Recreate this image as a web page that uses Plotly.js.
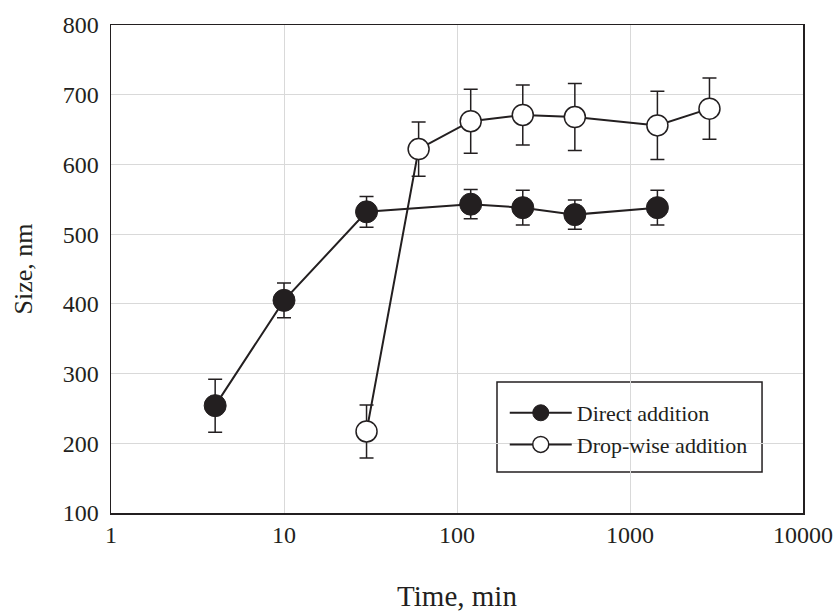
<!DOCTYPE html>
<html>
<head>
<meta charset="utf-8">
<script src="https://cdn.plot.ly/plotly-3.0.1.min.js"></script>
<style>html,body{margin:0;padding:0;background:#fff;}#chart{width:840px;height:612px;}</style>
</head>
<body>
<div id="chart"></div>
<script>
// Data
const directTime = [4, 10, 30, 120, 240, 480, 1440];
const directSize = [254, 405, 532, 543, 538, 528, 538];
const directErr  = [38, 25, 22, 21, 25, 21, 25];

const dropTime = [30, 60, 120, 240, 480, 1440, 2880];
const dropSize = [217, 622, 662, 671, 668, 656, 680];
const dropErr  = [38, 39, 46, 43, 48, 49, 44];

const xTickVals = [1, 10, 100, 1000, 10000];
const xTickText = ['1', '10', '100', '1000', '10000'];
const yTickVals = [100, 200, 300, 400, 500, 600, 700, 800];

const ink = '#231f20';
const font = 'Liberation Serif, Times New Roman, serif';

const traces = [
  {
    x: directTime, y: directSize, name: 'Direct addition',
    type: 'scatter', mode: 'lines+markers',
    line: {color: ink, width: 2},
    marker: {symbol: 'circle', size: 22, color: ink, line: {color: ink, width: 1}},
    error_y: {type: 'data', array: directErr, visible: true, color: ink, thickness: 1.5, width: 7}
  },
  {
    x: dropTime, y: dropSize, name: 'Drop-wise addition',
    type: 'scatter', mode: 'lines+markers',
    line: {color: ink, width: 2},
    marker: {symbol: 'circle', size: 21, color: '#ffffff', line: {color: ink, width: 1.5}},
    error_y: {type: 'data', array: dropErr, visible: true, color: ink, thickness: 1.5, width: 7}
  }
];

const layout = {
  width: 840, height: 612,
  margin: {l: 111, r: 37, t: 25, b: 99},
  paper_bgcolor: '#ffffff', plot_bgcolor: '#ffffff',
  font: {family: font, color: ink, size: 22},
  showlegend: true,
  legend: {
    x: 0.569, y: 0.248, xanchor: 'left', yanchor: 'top',
    bgcolor: 'rgba(0,0,0,0)', borderwidth: 0,
    font: {family: font, size: 22, color: ink},
    itemwidth: 62, tracegroupgap: 0
  },
  shapes: [
    {type: 'rect', xref: 'paper', yref: 'paper', x0: 0.5578, x1: 0.9408, y0: 0.084, y1: 0.2684,
     line: {color: ink, width: 1.5}, fillcolor: '#ffffff', layer: 'below'}
  ],
  xaxis: {
    type: 'log', range: [0, 4],
    tickvals: xTickVals, ticktext: xTickText,
    tickfont: {family: font, size: 24, color: ink},
    showgrid: true, gridcolor: '#d9d9d9', gridwidth: 1,
    showline: true, mirror: true, linecolor: ink, linewidth: 1.5,
    ticks: '', zeroline: false,
    title: {text: 'Time, min', font: {family: font, size: 29, color: ink}, standoff: 38},
    automargin: false
  },
  yaxis: {
    range: [100, 800],
    tickvals: yTickVals,
    tickfont: {family: font, size: 24, color: ink},
    showgrid: true, gridcolor: '#d9d9d9', gridwidth: 1,
    showline: true, mirror: true, linecolor: ink, linewidth: 1.5,
    ticks: '', zeroline: false, ticklabelstandoff: 6,
    title: {text: 'Size, nm', font: {family: font, size: 26, color: ink}, standoff: 22},
    automargin: false
  }
};

Plotly.newPlot('chart', traces, layout, {displayModeBar: false, staticPlot: true});
</script>
</body>
</html>
